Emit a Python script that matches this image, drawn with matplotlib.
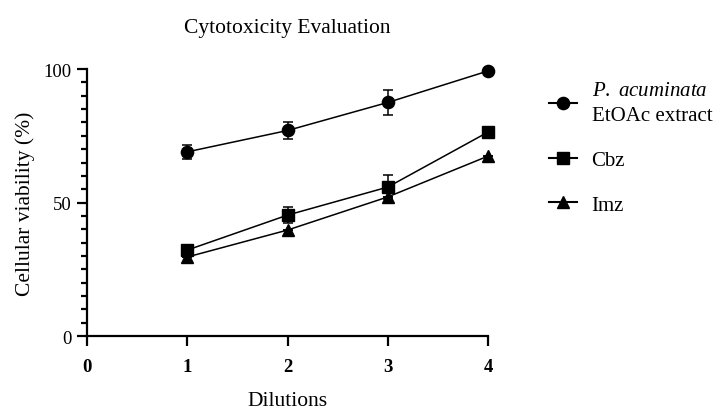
import matplotlib.pyplot as plt
from matplotlib.ticker import MultipleLocator

plt.rcParams['font.family'] = ['Liberation Serif', 'DejaVu Serif']
plt.rcParams['mathtext.fontset'] = 'custom'
plt.rcParams['mathtext.rm'] = 'Liberation Serif'
plt.rcParams['mathtext.it'] = 'Liberation Serif:italic'

# data
dilutions = [1, 2, 3, 4]
extract = [69, 77, 87.5, 99.3]
extract_err = [2.5, 3.1, 4.7, 0]
cbz = [32.2, 45.3, 55.8, 76.4]
cbz_err = [0, 3.1, 4.5, 0]
imz = [29.6, 39.7, 52.1, 67.4]
imz_err = [0, 0, 0, 0]

fig = plt.figure(figsize=(7.15, 4.1), dpi=100)
ax = fig.add_axes([0.1217, 0.178, 0.5608, 0.651])

style = dict(color='black', lw=1.1, capsize=3.5, elinewidth=1.1, capthick=1.1, clip_on=False)
e1 = ax.errorbar(dilutions, extract, yerr=extract_err, marker='o', ms=8.8, **style)
e2 = ax.errorbar(dilutions, cbz, yerr=cbz_err, marker='s', ms=8.2, **style)
e3 = ax.errorbar(dilutions, imz, yerr=imz_err, marker='^', ms=8.8, **style)

ax.set_xlim(0, 4)
ax.set_ylim(0, 100)
ax.set_xticks([0, 1, 2, 3, 4])
ax.set_yticks([0, 50, 100])
ax.yaxis.set_minor_locator(MultipleLocator(5))
for s in ['top', 'right']:
    ax.spines[s].set_visible(False)
for s in ['left', 'bottom']:
    ax.spines[s].set_linewidth(1.6)
ax.tick_params(axis='both', which='major', width=1.6, length=7, labelsize=13.5, pad=4)
ax.tick_params(axis='y', which='minor', width=1.6, length=4.5)
for lab in ax.get_xticklabels():
    lab.set_fontweight('bold')
ax.tick_params(axis='x', pad=9)

ax.set_xlabel('Dilutions', fontsize=15.5, labelpad=11)
ax.set_ylabel('Cellular viability (%)', fontsize=15.5, labelpad=6)
ax.set_title('Cytotoxicity Evaluation', fontsize=15.5, pad=27)

# legend shows only line + marker, no error bars
leg = ax.legend([e1[0], e2[0], e3[0]],
                ['$\\mathit{P.\\ acuminata}$\nEtOAc extract', 'Cbz', 'Imz'],
                loc='upper left', bbox_to_anchor=(1.105, 1.025), frameon=False, fontsize=15,
                handlelength=1.35, handletextpad=0.7, labelspacing=1.2)
for t in leg.get_texts():
    t.set_linespacing(1.45)
for h in leg.legend_handles:
    h.set_linewidth(1.5)

fig.savefig('out.png', dpi=100)
